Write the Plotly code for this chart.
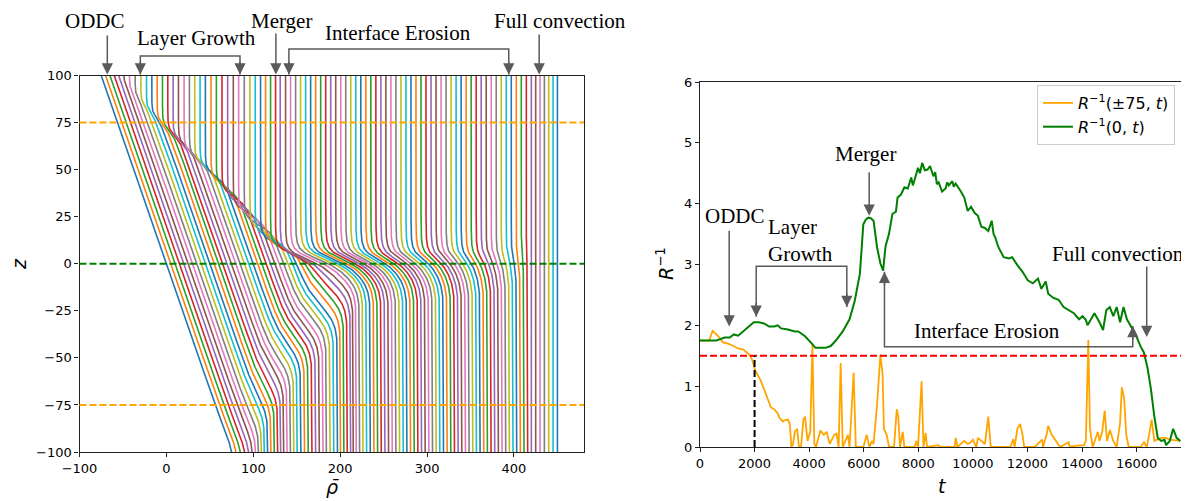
import numpy as np
import plotly.graph_objects as go

# screen geometry: the page body has an 8px margin, so the figure is offset by (8, 8)
SCREEN_W, SCREEN_H = 1189, 501
OX, OY = 8, 8
W, H = SCREEN_W - OX, SCREEN_H - OY

# ---------------- Left panel: horizontally averaged density profiles ----------------
profile_shift = 5.0          # each successive profile is offset by this amount
initial_gradient = -0.75     # d(rho)/dz of the initial linear stratification
z_upper = [100, 100, 100, 100, 98, 96, 93, 89, 85, 81, 78, 75,
           72, 69, 66, 63, 59, 56, 53, 50, 47, 43, 40, 36, 32, 28, 25, 21, 17, 14, 11, 9, 7, 5, 4, 3,
           3, 3, 3, 3, 3, 3, 3, 3, 3, 3, 3, 3, 3, 3, 3, 3, 3, 3, 3, 3, 3, 3, 3, 3,
           3, 3, 3, 3, 3, 3, 3, 3, 3, 3, 3, 3, 3, 3, 3, 3, 3, 3, 3, 3, 3, 3, 3, 3,
           3, 3, 3, 3, 3, 3, 3]
z_lower = [-100, -100, -100, -100, -98, -95, -92, -88, -84, -80, -77, -74,
           -71, -68, -64, -60, -57, -54, -51, -48, -46, -44, -42, -40, -38, -36, -34, -31, -29, -27,
           -25, -21, -18, -15, -12, -9, -7, -6,
           -5, -5, -5, -5, -5, -5, -5, -5, -5, -5, -5, -5, -5, -5, -5, -5, -5, -5, -5, -5,
           -5, -5, -5, -5, -5, -5, -5, -5, -5, -5, -5, -5, -5, -5, -5, -5, -5, -5, -5, -5,
           -5, -5, -5, -5, -5, -5, -5, -5, -5, -5, -5, -5, -5]
erosion = [1.0, 1.0, 1.0, 1.0, 1.0, 1.0, 1.0, 1.0, 1.0, 1.0, 1.0, 1.0, 1.0, 1.0, 1.0, 1.0, 1.0,
           1.0, 1.0, 1.0, 1.0, 1.0, 1.0, 1.0, 1.0, 1.0, 1.0, 1.0, 1.0, 1.0, 1.0, 1.0, 1.0, 1.0, 1.0,
           0.98, 0.96, 0.94, 0.92, 0.90, 0.88, 0.86, 0.84, 0.82, 0.80, 0.78, 0.76, 0.74, 0.72, 0.70,
           0.68, 0.66, 0.64, 0.62, 0.60, 0.58, 0.56, 0.54, 0.52, 0.50, 0.48, 0.46, 0.44, 0.42, 0.40,
           0.38, 0.36, 0.34, 0.32, 0.30, 0.28, 0.26, 0.24, 0.22, 0.20, 0.18, 0.16, 0.14, 0.12, 0.10,
           0.08, 0.06, 0.04, 0.02, 0.00, 0.0, 0.0, 0.0, 0.0, 0.0, 0.0]
w_upper, w_lower = 2.2, 5.0
left_xticks = [-100, 0, 100, 200, 300, 400]
left_yticks = [100, 75, 50, 25, 0, -25, -50, -75, -100]
ref_levels_orange = [75, -75]
ref_level_green = 0

# ---------------- Right panel: inverse density ratio time series ----------------
t_centre = [0, 300, 600, 715, 900, 1090, 1240, 1400, 1590, 1780, 1970, 2160, 2350, 2530, 2720, 2850,
            2970, 3220, 3475, 3600, 3850, 4100, 4230, 4415, 4600, 4790, 4980, 5230, 5480, 5670, 5860,
            5985, 6080, 6170, 6260, 6360, 6430, 6490, 6610, 6710, 6800, 6925, 7050, 7180, 7240, 7365,
            7490, 7615, 7740, 7800, 7870, 7990, 8060, 8140, 8240, 8340, 8430, 8555, 8620, 8680, 8745,
            8870, 9000, 9060, 9120, 9245, 9300, 9370, 9560, 9685, 9810, 9935, 10060, 10185, 10310,
            10440, 10565, 10690, 10760, 10815, 10940, 11130, 11320, 11440, 11630, 11820, 12010, 12200,
            12385, 12510, 12670, 12760, 12950, 13140, 13325, 13515, 13700, 13890, 14020, 14140, 14200,
            14330, 14455, 14640, 14770, 14890, 15020, 15145, 15270, 15395, 15520, 15645, 15770, 15960,
            16150, 16270, 16400, 16525, 16650, 16775, 16900, 17025, 17080, 17215, 17340, 17465, 17600]
R_centre = [1.75, 1.75, 1.75, 1.77, 1.8, 1.8, 1.85, 1.83, 1.9, 1.97, 2.05, 2.05, 2.03, 1.98, 1.98, 2.0,
            1.95, 1.93, 1.9, 1.9, 1.82, 1.7, 1.63, 1.63, 1.63, 1.66, 1.75, 1.9, 2.1, 2.4, 2.85,
            3.66, 3.74, 3.77, 3.76, 3.72, 3.5, 3.28, 3.02, 2.9, 3.3, 3.5, 3.83, 3.87, 4.1, 4.15,
            4.27, 4.25, 4.43, 4.3, 4.4, 4.59, 4.5, 4.67, 4.55, 4.56, 4.62, 4.45, 4.52, 4.32, 4.35,
            4.2, 4.25, 4.35, 4.3, 4.37, 4.28, 4.33, 4.2, 4.1, 3.88, 3.95, 3.85, 3.8, 3.62,
            3.6, 3.55, 3.72, 3.5, 3.45, 3.28, 3.12, 3.1, 3.12, 2.99, 2.88, 2.74, 2.69,
            2.77, 2.6, 2.72, 2.52, 2.45, 2.42, 2.3, 2.25, 2.2, 2.1, 2.15, 2.09, 2.0,
            2.1, 2.2, 2.05, 1.92, 2.25, 2.3, 2.15, 2.3, 2.05, 2.3, 2.1, 2.0, 1.85,
            1.65, 1.55, 1.3, 0.95, 0.5, 0.15, 0.1, 0.12, 0.03, 0.1, 0.3, 0.15, 0.1]
t_edge = [0, 340, 460, 650, 840, 1030, 1220, 1400, 1590, 1780, 1900, 2030, 2220, 2350, 2470, 2600, 2720,
          2850, 2910, 3040, 3100, 3225, 3290, 3350, 3410, 3475, 3560, 3625, 3700, 3790, 3850, 3940, 4040,
          4120, 4190, 4250, 4415, 4540, 4640, 4755, 4920, 5005, 5080, 5155, 5230, 5420, 5480, 5630, 5710,
          5985, 6110, 6210, 6300, 6360, 6490, 6610, 6690, 6740, 6840, 6930, 7110, 7210, 7265, 7330, 7430,
          7490, 7870, 7930, 7990, 8120, 8190, 8270, 8320, 8560, 8745, 8800, 9330, 9370, 9435, 9685, 9810,
          9935, 10000, 10125, 10185, 10310, 10440, 10565, 10655, 11380, 11480, 11530, 11630, 11730, 11820,
          11880, 12260, 12540, 12570, 12700, 12760, 12890, 13040, 13200, 13510, 13540, 13730, 14075, 14140,
          14230, 14290, 14390, 14580, 14640, 14740, 14830, 14915, 15020, 15145, 15270, 15395, 15460, 15545,
          15620, 15710, 16150, 16270, 16370, 16460, 16550, 16650, 16775, 16900, 17080, 17215, 17600]
R_edge = [1.75, 1.75, 1.91, 1.83, 1.72, 1.7, 1.66, 1.62, 1.6, 1.53, 1.45, 1.25, 1.1, 0.95, 0.78, 0.65, 0.62,
          0.55, 0.48, 0.42, 0.44, 0.45, 0.38, 0.0, 0.05, 0.25, 0.3, 0.0, 0.0, 0.45, 0.5, 0.1, 0.25,
          1.68, 0.05, 0.0, 0.27, 0.2, 0.25, 0.05, 0.2, 0.22, 0.0, 1.38, 0.0, 0.2, 0.0, 1.22, 0.0,
          0.0, 0.2, 0.0, 0.1, 0.05, 0.7, 1.52, 1.2, 0.3, 0.2, 0.0, 0.0, 0.62, 0.5, 0.0, 0.25,
          0.0, 0.0, 0.1, 0.0, 1.08, 0.0, 0.23, 0.0, 0.02, 0.03, 0.0, 0.0, 0.15, 0.0, 0.1, 0.05,
          0.08, 0.12, 0.0, 0.15, 0.1, 0.05, 0.5, 0.0, 0.0, 0.13, 0.0, 0.3, 0.38, 0.2,
          0.0, 0.0, 0.12, 0.0, 0.2, 0.35, 0.2, 0.1, 0.0, 0.08, 0.0, 0.02, 0.03, 0.1,
          1.76, 0.3, 0.0, 0.25, 0.1, 0.25, 0.6, 0.1, 0.28, 0.1, 0.0, 0.4, 0.98, 0.8,
          0.2, 0.0, 0.0, 0.08, 0.0, 0.2, 0.45, 0.1, 0.13, 0.15, 0.15, 0.12, 0.1]
R_threshold = 1.5
t_layer_onset = 2000
right_xticks = [0, 2000, 4000, 6000, 8000, 10000, 12000, 14000, 16000]
right_yticks = [0, 1, 2, 3, 4, 5, 6]

# ---------------- Annotation content ----------------
left_single_labels = ["ODDC", "Merger", "Full convection"]
left_single_text_x = [-82, 133, 453]
left_single_text_ypx = [21, 21, 21]
left_single_arrow_x = [-68, 126, 429]
left_single_tail_ypx = [34, 32, 33]
left_bracket_labels = ["Layer Growth", "Interface Erosion"]
left_bracket_text_x = [35, 266]
left_bracket_text_ypx = [38, 33]
left_bracket_x = [[-30, 84.7], [141, 394]]
left_bracket_bar_ypx = [56, 49]

right_single_labels = ["ODDC", "Merger", "Full convection"]
right_single_text = [(1280, 3.8), (6070, 4.81), (15300, 3.17)]
right_single_arrow = [(1070, 1.98, 3.58), (6200, 3.8, 4.54), (16370, 1.81, 2.99)]
right_bracket_text = [("Layer<br>Growth", 2450, 3.39), ("Interface Erosion", 10500, 1.9)]
right_bracket = [(2060, 2.14, 5380, 2.3, 2.97), (6760, 2.88, 15860, 1.99, 1.65)]

# ---------------- Geometry (screen pixels -> paper) ----------------
def pxx(sx):
    return (sx - OX) / W

def pyy(sy):
    return 1 - (sy - OY) / H

L_DOM = [pxx(79.5), pxx(584)]
L_XR = [-100, 480.6]
L_YDOM = [pyy(452), pyy(75.5)]
R_DOM = [pxx(700), pxx(1183)]
R_XR = [0, 17700]
R_YDOM = [pyy(447), pyy(82)]

def lx(v):
    return L_DOM[0] + (v - L_XR[0]) / (L_XR[1] - L_XR[0]) * (L_DOM[1] - L_DOM[0])

tab10 = ['#1f77b4', '#ff7f0e', '#2ca02c', '#d62728', '#9467bd',
         '#8c564b', '#e377c2', '#7f7f7f', '#bcbd22', '#17becf']
ARROW = '#5a5a5a'
SERIF = 'Liberation Serif'
SANS = 'DejaVu Sans'

fig = go.Figure()

z = np.linspace(-100, 100, 401)
def sig(a):
    return 1.0 / (1.0 + np.exp(-a))

for k in range(len(z_upper)):
    zu, zl, f = z_upper[k], z_lower[k], erosion[k]
    U = initial_gradient * (100 + zu) / 2
    Lw = initial_gradient * (zl - 100) / 2
    Su = sig((z - zu) / w_upper)
    Sl = sig((zl - z) / w_lower)
    rest = np.clip(1 - Su - Sl, 0, 1)
    rho = U * Su + Lw * Sl + initial_gradient * z * rest
    fig.add_trace(go.Scatter(x=profile_shift * k + f * rho, y=z, mode='lines',
                             line=dict(color=tab10[k % 10], width=1.6),
                             showlegend=False, hoverinfo='skip', xaxis='x', yaxis='y'))

fig.add_trace(go.Scatter(x=t_edge, y=R_edge, mode='lines', name='<i>R</i><sup>−1</sup>(±75, <i>t</i>)',
                         line=dict(color='#ffa500', width=1.8), xaxis='x2', yaxis='y2'))
fig.add_trace(go.Scatter(x=t_centre, y=R_centre, mode='lines', name='<i>R</i><sup>−1</sup>(0, <i>t</i>)',
                         line=dict(color='#008000', width=2), xaxis='x2', yaxis='y2'))

shapes = []
for lev in ref_levels_orange:
    shapes.append(dict(type='line', xref='x domain', yref='y', x0=0, x1=1, y0=lev, y1=lev,
                       line=dict(color='#ffa500', width=2, dash='7px,3px'), layer='above'))
shapes.append(dict(type='line', xref='x domain', yref='y', x0=0, x1=1, y0=ref_level_green, y1=ref_level_green,
                   line=dict(color='#008000', width=2, dash='7px,3px'), layer='above'))
shapes.append(dict(type='line', xref='x2 domain', yref='y2', x0=0, x1=1, y0=R_threshold, y1=R_threshold,
                   line=dict(color='#ff0000', width=2, dash='7px,3px'), layer='above'))
shapes.append(dict(type='line', xref='x2', yref='y2', x0=t_layer_onset, x1=t_layer_onset, y0=0, y1=R_threshold,
                   line=dict(color='black', width=2, dash='7px,3px'), layer='above'))

annotations = []
tip_left = pyy(74.5)
for lab, tx, ty, axv, tail in zip(left_single_labels, left_single_text_x, left_single_text_ypx,
                                  left_single_arrow_x, left_single_tail_ypx):
    annotations.append(dict(text=lab, x=lx(tx), y=pyy(ty), xref='paper', yref='paper', showarrow=False,
                            borderpad=0, font=dict(family=SERIF, size=21, color='black'),
                            xanchor='center', yanchor='middle'))
    annotations.append(dict(text='', x=lx(axv), y=tip_left, xref='paper', yref='paper', showarrow=True,
                            ax=0, ay=-(74.5 - tail), arrowhead=2, arrowsize=1.5, arrowwidth=1.5,
                            arrowcolor=ARROW, standoff=0))
for lab, tx, ty, (xa, xb), bar in zip(left_bracket_labels, left_bracket_text_x, left_bracket_text_ypx,
                                       left_bracket_x, left_bracket_bar_ypx):
    annotations.append(dict(text=lab, x=lx(tx), y=pyy(ty), xref='paper', yref='paper', showarrow=False,
                            borderpad=0, font=dict(family=SERIF, size=21, color='black'),
                            xanchor='center', yanchor='middle'))
    shapes.append(dict(type='path', xref='paper', yref='paper',
                       path=f"M {lx(xa)},{tip_left} L {lx(xa)},{pyy(bar)} L {lx(xb)},{pyy(bar)} L {lx(xb)},{tip_left}",
                       line=dict(color=ARROW, width=1.5)))
    for xv in (xa, xb):
        annotations.append(dict(text='', x=lx(xv), y=tip_left, xref='paper', yref='paper', showarrow=True,
                                ax=0, ay=-14, arrowhead=2, arrowsize=1.5, arrowwidth=1.5,
                                arrowcolor=ARROW, standoff=0))

for lab, (tx, ty), (axv, tip, tail) in zip(right_single_labels, right_single_text, right_single_arrow):
    annotations.append(dict(text=lab, x=tx, y=ty, xref='x2', yref='y2', showarrow=False,
                            xanchor='center', yanchor='middle', borderpad=0,
                            font=dict(family=SERIF, size=21, color='black')))
    annotations.append(dict(text='', x=axv, y=tip, xref='x2', yref='y2', ax=axv, ay=tail, axref='x2', ayref='y2',
                            showarrow=True, arrowhead=2, arrowsize=1.5, arrowwidth=1.5, arrowcolor=ARROW, standoff=0))
for (lab, tx, ty), (xa, tipa, xb, tipb, bar) in zip(right_bracket_text, right_bracket):
    annotations.append(dict(text=lab, x=tx, y=ty, xref='x2', yref='y2', showarrow=False, align='left',
                            xanchor='left' if 'Layer' in lab else 'center', yanchor='middle', borderpad=0,
                            font=dict(family=SERIF, size=21, color='black')))
    shapes.append(dict(type='path', xref='x2', yref='y2',
                       path=f"M {xa},{tipa} L {xa},{bar} L {xb},{bar} L {xb},{tipb}",
                       line=dict(color=ARROW, width=1.5)))
    for xv, tp in ((xa, tipa), (xb, tipb)):
        d = 0.25 if bar > tp else -0.25
        annotations.append(dict(text='', x=xv, y=tp, xref='x2', yref='y2', ax=xv, ay=tp + d,
                                axref='x2', ayref='y2', showarrow=True, arrowhead=2, arrowsize=1.5,
                                arrowwidth=1.5, arrowcolor=ARROW, standoff=0))

annotations += [
    dict(text='<i>z</i>', x=pxx(19), y=pyy(264), xref='paper', yref='paper', showarrow=False, textangle=-90,
         borderpad=0, xanchor='center', yanchor='middle', font=dict(family=SANS, size=19, color='black')),
    dict(text='<i>ρ̄</i>', x=pxx(332), y=pyy(487), xref='paper', yref='paper', showarrow=False,
         borderpad=0, xanchor='center', yanchor='middle', font=dict(family=SANS, size=19, color='black')),
    dict(text='<i>R</i><sup>−1</sup>', x=pxx(665), y=pyy(264), xref='paper', yref='paper', showarrow=False,
         borderpad=0, textangle=-90, xanchor='center', yanchor='middle',
         font=dict(family=SANS, size=19, color='black')),
    dict(text='<i>t</i>', x=pxx(942), y=pyy(486), xref='paper', yref='paper', showarrow=False,
         borderpad=0, xanchor='center', yanchor='middle', font=dict(family=SANS, size=19, color='black')),
]

axis_common = dict(showgrid=False, zeroline=False, showline=True, mirror=True, linecolor='#222', linewidth=1.2,
                   ticks='outside', ticklen=4, tickwidth=1, tickcolor='#222', automargin=False,
                   tickfont=dict(family=SANS, size=13, color='black'))

fig.update_layout(
    template=None,
    width=W, height=H, autosize=False,
    margin=dict(l=0, r=0, t=0, b=0, pad=0, autoexpand=False),
    plot_bgcolor='white', paper_bgcolor='white',
    xaxis=dict(domain=L_DOM, range=L_XR, tickvals=left_xticks,
               ticktext=[str(v).replace('-', '−') for v in left_xticks], anchor='y', **axis_common),
    yaxis=dict(domain=L_YDOM, range=[-100, 100], tickvals=left_yticks,
               ticktext=[str(v).replace('-', '−') for v in left_yticks], anchor='x', **axis_common),
    xaxis2=dict(domain=R_DOM, range=R_XR, tickvals=right_xticks, ticktext=[str(v) for v in right_xticks],
                anchor='y2', **axis_common),
    yaxis2=dict(domain=R_YDOM, range=[0, 6], tickvals=right_yticks, ticktext=[str(v) for v in right_yticks],
                anchor='x2', **axis_common),
    legend=dict(x=pxx(1175), y=pyy(85), xanchor='right', yanchor='top', bgcolor='rgba(255,255,255,0.9)',
                bordercolor='#cccccc', borderwidth=1, tracegroupgap=4,
                font=dict(family=SANS, size=16, color='black')),
    shapes=shapes, annotations=annotations, showlegend=True,
)

fig.write_html("out.html")
